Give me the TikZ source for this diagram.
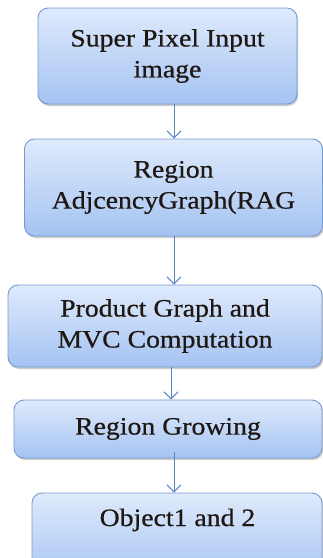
\documentclass[tikz,border=0pt]{standalone}
\usepackage{fontspec}
\setmainfont[FakeStretch=1.11, FakeBold=0.6]{Liberation Serif}
\usetikzlibrary{arrows.meta,shadows}
\definecolor{boxtop}{HTML}{DFEAFC}
\definecolor{boxbot}{HTML}{A4C3F2}
\definecolor{boxline}{HTML}{7499D0}
\definecolor{flowline}{HTML}{5586C2}
\definecolor{labeltext}{HTML}{1E1712}
\tikzset{
  stepbox/.style={rounded corners=10pt, draw=boxline, line width=0.9pt,
    top color=boxtop, bottom color=boxbot,
    drop shadow={shadow xshift=1.2pt, shadow yshift=-2pt, fill=black!45, opacity=0.45},
    align=center, inner sep=0pt, text=labeltext,
    font=\fontsize{25}{31}\selectfont},
  steplabel/.style={align=center, inner sep=0pt, text=labeltext,
    font=\fontsize{25}{31}\selectfont},
  flow/.style={draw=flowline, line width=1pt,
    -{Straight Barb[length=7pt, width=14pt, line width=1pt]}},
}
\begin{document}
\begin{tikzpicture}[x=1pt, y=-1pt]
  \useasboundingbox (0,0) rectangle (323,558);
  \clip (0,0) rectangle (323,558);
  % process boxes
  \node[stepbox, minimum width=259pt, minimum height=96pt] (b1) at (167.5,56)
    {Super Pixel Input\\image};
  \node[stepbox, minimum width=298pt, minimum height=97pt] (b2) at (173.5,187.5)
    {Region\\AdjcencyGraph(RAG};
  \node[stepbox, minimum width=314pt, minimum height=82pt] (b3) at (165,326)
    {Product Graph and\\MVC Computation};
  \node[stepbox, minimum width=308pt, minimum height=58pt] (b4) at (168,429)
    {Region Growing};
  \node[stepbox, minimum width=290pt, minimum height=90pt] (b5) at (177,538) {};
  \node[steplabel, anchor=base] (b5t) at (177.5,526) {Object1 and 2};
  % connectors
  \draw[flow] (b1.south -| 174,0) -- (b2.north -| 174,0);
  \draw[flow] (b2.south -| 174,0) -- (b3.north -| 174,0);
  \draw[flow] (b3.south -| 171,0) -- (b4.north -| 171,0);
  \draw[flow] ([yshift=6pt]b4.south -| 174,0) -- (b5.north -| 174,0);
\end{tikzpicture}
\end{document}
